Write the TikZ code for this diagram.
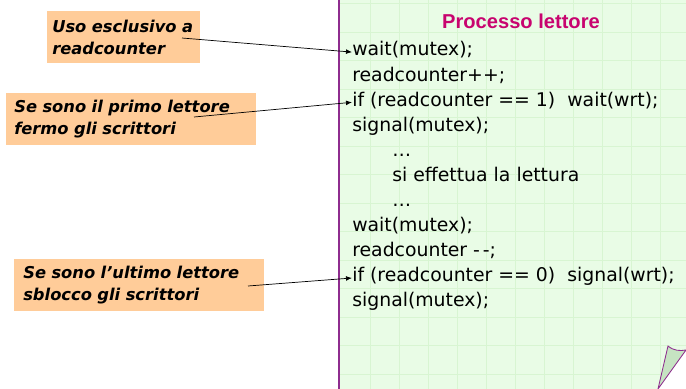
\documentclass[tikz,border=0pt]{standalone}
\usepackage{fontspec}
\setmainfont{DejaVu Sans}
\newfontfamily\titlefont{Liberation Sans}
\usepackage{tikz}
\usetikzlibrary{arrows.meta,positioning,calc}
\definecolor{panelgreen}{HTML}{E9FCE6}
\definecolor{gridgreen}{HTML}{D8F5D2}
\definecolor{curlgreen}{HTML}{C6E4C2}
\definecolor{notebg}{HTML}{FFCC99}
\definecolor{framepurple}{HTML}{8E2C8E}
\definecolor{titlemag}{HTML}{C8046F}
\newlength\pxu \setlength\pxu{0.025cm}
\tikzset{note/.style={fill=notebg,anchor=north west,align=left,inner xsep=8\pxu,
 inner ysep=0pt,font=\fontsize{11.6}{15.6}\selectfont\bfseries\itshape},
 code/.style={anchor=mid west,inner sep=0pt,font=\fontsize{13.4}{15}\selectfont},
 arr/.style={-{Latex[length=1.5mm,width=1.2mm]},line width=0.5pt}}

\begin{document}
\begin{tikzpicture}[x=\pxu,y=-\pxu]
\useasboundingbox (0,0) rectangle (686,389);
% panel with the grid
\fill[panelgreen] (339,0) rectangle (686,389);
\foreach \gx in {370,399,...,686}{\draw[gridgreen,line width=0.35pt] (\gx,0)--(\gx,389);}
\foreach \gy in {3.5,32,...,389}{\draw[gridgreen,line width=0.35pt] (339,\gy)--(686,\gy);}
\draw[framepurple,line width=1pt] (339,0)--(339,389);
% folded corner
\fill[white] (658,389)--(686,351)--(686,389)--cycle;
\filldraw[fill=curlgreen,draw=framepurple,line width=0.6pt] (658,389)--(668,346)
 .. controls (674,351) and (680,351) .. (686,350)--cycle;
% code
\node[font=\titlefont\fontsize{14.3}{16}\selectfont\bfseries,text=titlemag] (title) at (521,21) {Processo lettore};
\foreach \i/\t/\dx in {1/wait(mutex);/0,2/readcounter++;/0,
 3/{if (readcounter == 1)\ \ wait(wrt);}/0,4/signal(mutex);/0,5/\dots/40,
 6/si effettua la lettura/40,7/\dots/40,8/wait(mutex);/0,9/readcounter -\kern2pt-;/0,
 10/{if (readcounter == 0)\ \ signal(wrt);}/0,11/signal(mutex);/0}
 {\node[code] (l\i) at (352+\dx,27+25.1*\i) {\t};}
% notes
\node[note,text width=143\pxu,minimum width=153\pxu,minimum height=52\pxu,inner xsep=5\pxu] (n1) at (47,11) {Uso esclusivo a\\readcounter};
\node[note,text width=234\pxu,minimum width=250\pxu,minimum height=52\pxu] (n2) at (6,93) {Se sono il primo lettore\\fermo gli scrittori};
\node[note,text width=232\pxu,minimum width=250\pxu,minimum height=52\pxu,inner xsep=9\pxu] (n3) at (14,259) {Se sono l'ultimo lettore\\sblocco gli scrittori};
\coordinate (s1) at (182,38);
\coordinate (s2) at (194,117);
\coordinate (s3) at (248,286);
\draw[arr] (s1)--(l1.mid west);
\draw[arr] (s2)--(l3.mid west);
\draw[arr] (s3)--(l10.mid west);
\end{tikzpicture}
\end{document}
